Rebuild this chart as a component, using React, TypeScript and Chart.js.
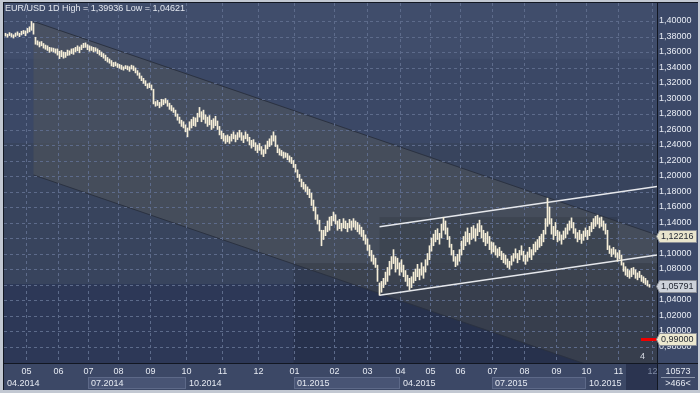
import React, { useEffect, useRef } from "react";
import { Chart, registerables } from "chart.js";

Chart.register(...registerables);

const chartTitle = "EUR/USD 1D High = 1,39936 Low = 1,04621";

// daily bars: [low, high]
const priceBars: [number, number][] = [
  [1.3805,1.3842],[1.3790,1.3830],[1.3812,1.3850],[1.3795,1.3838],[1.3780,1.3822],[1.3800,1.3845],[1.3815,1.3860],[1.3798,1.3842],[1.3820,1.3868],[1.3835,1.3878],[1.3810,1.3872],[1.3845,1.3905],[1.3860,1.3925],
  [1.3880,1.3994],[1.3830,1.3968],
  [1.3700,1.3790],[1.3690,1.3745],[1.3665,1.3730],[1.3680,1.3735],[1.3650,1.3710],[1.3635,1.3690],[1.3620,1.3680],[1.3595,1.3660],[1.3610,1.3655],[1.3600,1.3650],[1.3585,1.3640],[1.3560,1.3640],[1.3515,1.3610],
  [1.3540,1.3620],[1.3520,1.3600],[1.3530,1.3595],[1.3555,1.3625],[1.3560,1.3615],[1.3580,1.3640],[1.3570,1.3645],[1.3600,1.3660],[1.3615,1.3680],[1.3590,1.3665],[1.3630,1.3690],[1.3655,1.3712],[1.3660,1.3718],[1.3630,1.3695],[1.3610,1.3680],[1.3620,1.3670],[1.3600,1.3660],[1.3610,1.3655],[1.3580,1.3640],[1.3560,1.3620],
  [1.3540,1.3600],[1.3520,1.3580],[1.3490,1.3560],[1.3470,1.3530],[1.3455,1.3510],[1.3420,1.3490],[1.3410,1.3465],[1.3420,1.3470],[1.3400,1.3450],[1.3390,1.3440],[1.3375,1.3430],[1.3365,1.3410],[1.3385,1.3425],[1.3370,1.3420],[1.3350,1.3410],[1.3380,1.3430],[1.3360,1.3420],
  [1.3330,1.3395],[1.3300,1.3360],[1.3260,1.3330],[1.3230,1.3290],[1.3195,1.3260],[1.3165,1.3230],[1.3130,1.3190],[1.3140,1.3200],[1.3110,1.3175],[1.2930,1.3120],[1.2900,1.2960],[1.2910,1.2975],[1.2880,1.2950],[1.2900,1.2990],[1.2920,1.2985],[1.2940,1.3000],[1.2900,1.2975],[1.2860,1.2940],[1.2840,1.2910],[1.2820,1.2880],
  [1.2770,1.2850],[1.2720,1.2800],[1.2680,1.2760],[1.2640,1.2720],[1.2620,1.2700],[1.2570,1.2660],[1.2505,1.2620],[1.2590,1.2700],[1.2620,1.2730],[1.2650,1.2760],[1.2640,1.2750],[1.2700,1.2810],[1.2760,1.2885],[1.2700,1.2830],[1.2730,1.2850],[1.2680,1.2790],[1.2640,1.2760],[1.2660,1.2780],[1.2600,1.2720],[1.2620,1.2740],[1.2650,1.2770],[1.2600,1.2710],
  [1.2530,1.2640],[1.2480,1.2580],[1.2450,1.2550],[1.2420,1.2520],[1.2440,1.2530],[1.2420,1.2510],[1.2450,1.2540],[1.2480,1.2570],[1.2440,1.2530],[1.2470,1.2560],[1.2500,1.2590],[1.2460,1.2560],[1.2430,1.2520],[1.2480,1.2570],[1.2450,1.2540],[1.2400,1.2500],[1.2360,1.2460],[1.2380,1.2470],[1.2330,1.2430],[1.2300,1.2400],[1.2330,1.2420],[1.2280,1.2380],[1.2250,1.2340],[1.2290,1.2400],[1.2350,1.2450],[1.2380,1.2480],[1.2400,1.2520],[1.2450,1.2570],[1.2380,1.2520],
  [1.2300,1.2400],[1.2270,1.2350],[1.2260,1.2330],[1.2230,1.2310],[1.2240,1.2300],[1.2210,1.2290],[1.2180,1.2260],[1.2160,1.2240],[1.2110,1.2200],[1.2050,1.2150],[1.1980,1.2080],[1.1930,1.2020],[1.1860,1.1960],[1.1830,1.1920],[1.1800,1.1890],[1.1760,1.1860],[1.1720,1.1830],[1.1620,1.1780],[1.1550,1.1690],[1.1440,1.1600],[1.1380,1.1500],[1.1290,1.1430],[1.1100,1.1300],[1.1180,1.1300],
  [1.1230,1.1350],[1.1280,1.1420],[1.1300,1.1470],[1.1360,1.1480],[1.1420,1.1535],[1.1380,1.1500],[1.1300,1.1420],[1.1320,1.1440],[1.1290,1.1390],[1.1330,1.1450],[1.1320,1.1420],[1.1280,1.1390],[1.1330,1.1440],[1.1300,1.1420],[1.1340,1.1450],[1.1310,1.1420],[1.1280,1.1400],[1.1250,1.1370],[1.1220,1.1340],
  [1.1170,1.1300],[1.1120,1.1240],[1.1040,1.1190],[1.0970,1.1110],[1.0900,1.1040],[1.0860,1.0980],[1.0820,1.0940],[1.0640,1.0850],[1.0462,1.0620],[1.0500,1.0640],[1.0560,1.0680],[1.0600,1.0760],[1.0640,1.0820],[1.0720,1.0900],[1.0800,1.0960],[1.0870,1.1050],[1.0760,1.0960],[1.0800,1.0940],[1.0720,1.0880],[1.0760,1.0920],
  [1.0700,1.0850],[1.0640,1.0780],[1.0580,1.0720],[1.0530,1.0680],[1.0560,1.0700],[1.0620,1.0760],[1.0650,1.0800],[1.0700,1.0860],[1.0660,1.0800],[1.0720,1.0880],[1.0680,1.0830],[1.0760,1.0920],[1.0850,1.1000],[1.0920,1.1100],[1.1030,1.1200],[1.1100,1.1250],[1.1150,1.1300],[1.1180,1.1320],[1.1120,1.1260],[1.1200,1.1380],[1.1300,1.1467],[1.1250,1.1420],[1.1180,1.1330],
  [1.1080,1.1220],[1.0980,1.1120],[1.0900,1.1040],[1.0830,1.0960],[1.0850,1.0990],[1.0900,1.1050],[1.0980,1.1160],[1.1050,1.1220],[1.1100,1.1280],[1.1150,1.1330],[1.1120,1.1260],[1.1180,1.1340],[1.1200,1.1360],[1.1160,1.1320],[1.1230,1.1385],[1.1280,1.1430],[1.1200,1.1360],[1.1150,1.1300],[1.1100,1.1260],[1.1130,1.1280],[1.1050,1.1220],[1.1000,1.1150],
  [1.1020,1.1140],[1.0980,1.1100],[1.0950,1.1060],[1.0970,1.1080],[1.0920,1.1030],[1.0880,1.1000],[1.0860,1.0980],[1.0820,1.0930],[1.0800,1.0900],[1.0850,1.0970],[1.0900,1.1000],[1.0940,1.1060],[1.0880,1.1000],[1.0920,1.1040],[1.0980,1.1100],[1.0900,1.1030],[1.0860,1.0980],[1.0900,1.1020],[1.0950,1.1080],[1.0920,1.1050],
  [1.0980,1.1120],[1.1020,1.1150],[1.1050,1.1180],[1.1080,1.1220],[1.1100,1.1250],[1.1150,1.1300],[1.1250,1.1450],[1.1350,1.1714],[1.1380,1.1600],[1.1250,1.1450],[1.1180,1.1350],[1.1230,1.1400],[1.1150,1.1300],[1.1170,1.1280],[1.1120,1.1240],[1.1180,1.1290],[1.1200,1.1330],[1.1250,1.1380],[1.1300,1.1420],[1.1330,1.1460],[1.1260,1.1400],
  [1.1200,1.1320],[1.1150,1.1270],[1.1180,1.1300],[1.1130,1.1250],[1.1170,1.1290],[1.1220,1.1330],[1.1180,1.1300],[1.1230,1.1350],[1.1280,1.1400],[1.1320,1.1450],[1.1350,1.1480],[1.1380,1.1495],[1.1330,1.1460],[1.1350,1.1470],[1.1300,1.1420],[1.1250,1.1380],
  [1.1050,1.1300],[1.1000,1.1100],[1.0960,1.1060],[1.0990,1.1080],[1.0950,1.1050],[1.0900,1.1010],[1.0930,1.1040],[1.0850,1.0980],[1.0770,1.0880],[1.0720,1.0830],[1.0700,1.0800],[1.0680,1.0780],[1.0700,1.0810],[1.0730,1.0820],[1.0680,1.0790],[1.0660,1.0750],[1.0690,1.0770],[1.0640,1.0720],[1.0620,1.0700],[1.0600,1.0680],[1.0580,1.0650],[1.0565,1.0600],
];

const monthLabels = ["05","06","07","08","09","10","11","12","01","02","03","04","05","06","07","08","09","10","11","12"];
const monthStartBars = [10, 26, 41, 56, 72, 90, 108, 126, 144, 164, 181, 197, 212, 227, 243, 259, 275, 290, 306, 323];
const quarterLabels = ["04.2014","07.2014","10.2014","01.2015","04.2015","07.2015","10.2015"];
const quarterStartBars = [-0.75, 41, 90, 144, 197, 243, 290];
const quarterEndBar = 310;
const yTickValues = [1.40,1.38,1.36,1.34,1.32,1.30,1.28,1.26,1.24,1.22,1.20,1.18,1.16,1.14,1.12,1.10,1.08,1.06,1.04,1.02,1.00,0.98];
const yMin = 0.95871;
const yMax = 1.42323;

const priceMarkers = [1.12216, 1.05791, 0.99];
const markerFills = ["#e9e5cd", "#cdd2da", "#ece8cf"];
const alertPrice = 0.99;
const barCountText = "10573";
const shiftText = ">466<";
const cornerText = "4";

// chart objects in bar / price units
const downChannelStart = { bar: 14, price: 1.3994 };
const downChannelEnd = { bar: 325.75, price: 1.1239 };
const downChannelWidth = 0.1981;
const upChannelStart = { bar: 187, price: 1.0462 };
const upChannelEnd = { bar: 325.75, price: 1.0981 };
const upChannelWidth = 0.0883;
const priceZones = [1.351, 1.2426, 1.0606];
const rangeBoxA = { fromBar: 144, toBar: 325.75, top: 1.0877, bottom: 0.9 };
const rangeBoxB = { fromBar: 187, toBar: 306, top: 1.147, bottom: 1.0877 };

const FONT = '9px "Liberation Sans", Arial, sans-serif';

const fmt = (v: number) => v.toFixed(5).replace(".", ",");

const mtPlugin = {
  id: "mtLook",
  beforeDraw(chart: any) {
    const { ctx, chartArea: a } = chart;
    const xs = chart.scales.x, ys = chart.scales.y;
    const X = (v: number) => xs.getPixelForValue(v);
    const Y = (v: number) => ys.getPixelForValue(v);
    const W = chart.width, H = chart.height;
    const w = a.right - a.left;
    ctx.save();
    ctx.fillStyle = "#c2c8d2";
    ctx.fillRect(0, 0, W, H);
    ctx.fillStyle = "#121722";
    ctx.fillRect(3, 2, W - 5, H - 5);
    // right panel
    ctx.fillStyle = "#3c4968";
    ctx.fillRect(a.right + 1, a.top, W - 2 - (a.right + 1), a.bottom - a.top);
    // x axis area
    ctx.fillStyle = "#3c4866";
    ctx.fillRect(a.left, a.bottom + 1, w, H - 3 - (a.bottom + 1));
    ctx.fillRect(a.right + 1, a.bottom + 1, W - 2 - (a.right + 1), H - 3 - (a.bottom + 1));

    // plot background
    ctx.save();
    ctx.beginPath();
    ctx.rect(a.left, a.top, w, a.bottom - a.top);
    ctx.clip();
    ctx.fillStyle = "#3b4866";
    ctx.fillRect(a.left, a.top, w, a.bottom - a.top);
    const z0 = Y(priceZones[0]), z1 = Y(priceZones[1]), z2 = Y(priceZones[2]);
    ctx.fillStyle = "#404d6b";
    ctx.fillRect(a.left, a.top, w, z0 - a.top);
    ctx.fillStyle = "rgba(40,45,50,0.15)";
    ctx.fillRect(a.left, z1, w, z2 - z1);
    ctx.fillStyle = "rgba(20,28,60,0.35)";
    ctx.fillRect(a.left, z2, w, a.bottom - z2);

    const dx0 = X(downChannelStart.bar), dx1 = X(downChannelEnd.bar);
    const du0 = Y(downChannelStart.price), du1 = Y(downChannelEnd.price);
    const dl0 = Y(downChannelStart.price - downChannelWidth), dl1 = Y(downChannelEnd.price - downChannelWidth);
    ctx.fillStyle = "rgba(82,86,90,0.5)";
    ctx.beginPath();
    ctx.moveTo(dx0, du0);
    ctx.lineTo(dx1, du1);
    ctx.lineTo(dx1, dl1);
    ctx.lineTo(dx0, dl0);
    ctx.closePath();
    ctx.fill();

    ctx.fillStyle = "rgba(0,0,0,0.12)";
    ctx.fillRect(X(rangeBoxA.fromBar), Y(rangeBoxA.top), X(rangeBoxA.toBar) - X(rangeBoxA.fromBar), Y(rangeBoxA.bottom) - Y(rangeBoxA.top));
    ctx.fillStyle = "rgba(0,0,0,0.1)";
    ctx.fillRect(X(rangeBoxB.fromBar), Y(rangeBoxB.top), X(rangeBoxB.toBar) - X(rangeBoxB.fromBar), Y(rangeBoxB.bottom) - Y(rangeBoxB.top));

    ctx.strokeStyle = "#2b3241";
    ctx.lineWidth = 1;
    ctx.beginPath();
    ctx.moveTo(dx0, du0);
    ctx.lineTo(dx1, du1);
    ctx.moveTo(dx0, dl0);
    ctx.lineTo(dx1, dl1);
    ctx.stroke();

    // grid
    ctx.strokeStyle = "#5d6b8b";
    ctx.setLineDash([3, 3]);
    ctx.beginPath();
    yTickValues.forEach((v) => {
      const yy = Math.round(Y(v)) + 0.5;
      ctx.moveTo(a.left, yy);
      ctx.lineTo(a.right, yy);
    });
    monthStartBars.forEach((b) => {
      const xx = Math.round(X(b)) + 0.5;
      ctx.moveTo(xx, a.top);
      ctx.lineTo(xx, a.bottom);
    });
    ctx.stroke();
    ctx.setLineDash([]);
    ctx.restore();

    // x axis: quarter boxes
    const rowTop = a.bottom + 14;
    const rowBot = H - 4;
    quarterLabels.forEach((q, i) => {
      const x0 = i === 0 ? a.left : Math.round(X(quarterStartBars[i]));
      const x1 = i < quarterLabels.length - 1 ? Math.round(X(quarterStartBars[i + 1])) : Math.round(X(quarterEndBar));
      if (i % 2 === 1) {
        ctx.fillStyle = "#485474";
        ctx.fillRect(x0, rowTop, x1 - x0, rowBot - rowTop);
        ctx.strokeStyle = "#5d6988";
        ctx.strokeRect(x0 + 0.5, rowTop + 0.5, x1 - x0 - 1, rowBot - rowTop - 1);
      }
    });
    ctx.fillStyle = "#2b3450";
    ctx.fillRect(Math.round(X(quarterEndBar)), a.bottom + 1, a.right - Math.round(X(quarterEndBar)), H - 3 - (a.bottom + 1));
    ctx.restore();
  },
  beforeDatasetsDraw(chart: any) {
    const { ctx, chartArea: a } = chart;
    const X = (v: number) => chart.scales.x.getPixelForValue(v);
    const Y = (v: number) => chart.scales.y.getPixelForValue(v);
    ctx.save();
    ctx.beginPath();
    ctx.rect(a.left, a.top, a.right - a.left, a.bottom - a.top);
    ctx.clip();
    ctx.strokeStyle = "#e6e8ec";
    ctx.lineWidth = 1.4;
    ctx.beginPath();
    ctx.moveTo(X(upChannelStart.bar), Y(upChannelStart.price));
    ctx.lineTo(X(upChannelEnd.bar), Y(upChannelEnd.price));
    ctx.moveTo(X(upChannelStart.bar), Y(upChannelStart.price + upChannelWidth));
    ctx.lineTo(X(upChannelEnd.bar), Y(upChannelEnd.price + upChannelWidth));
    ctx.stroke();
    ctx.restore();
  },
  afterDraw(chart: any) {
    const { ctx, chartArea: a } = chart;
    const X = (v: number) => chart.scales.x.getPixelForValue(v);
    const Y = (v: number) => chart.scales.y.getPixelForValue(v);
    const W = chart.width, H = chart.height;
    ctx.save();
    ctx.font = FONT;
    ctx.textBaseline = "middle";
    // title
    ctx.fillStyle = "#e4e8f0";
    ctx.textAlign = "left";
    ctx.fillText(chartTitle, 5, 8.5);
    // corner "4"
    ctx.fillStyle = "#d8dce4";
    ctx.fillText(cornerText, a.right - 17, a.bottom - 6);
    // month labels
    ctx.textAlign = "center";
    monthLabels.forEach((m, i) => {
      ctx.fillStyle = i === monthLabels.length - 1 ? "#7f8aa3" : "#e6eaf2";
      ctx.fillText(m, Math.round(X(monthStartBars[i])) + 0.5, a.bottom + 9);
    });
    ctx.textAlign = "left";
    ctx.fillStyle = "#e6eaf2";
    quarterLabels.forEach((q, i) => {
      const x0 = i === 0 ? a.left : Math.round(X(quarterStartBars[i]));
      ctx.fillText(q, x0 + 3, a.bottom + 21);
    });
    // corner cell
    const cx = (a.right + 1 + W - 2) / 2;
    ctx.textAlign = "center";
    ctx.fillText(barCountText, cx, a.bottom + 8.5);
    ctx.fillText(shiftText, cx, a.bottom + 21);
    ctx.strokeStyle = "#8b95aa";
    ctx.beginPath();
    ctx.moveTo(a.right + 4, a.bottom + 14.5);
    ctx.lineTo(W - 5, a.bottom + 14.5);
    ctx.stroke();
    // alert line
    const ya = Math.round(Y(alertPrice));
    ctx.fillStyle = "#f00000";
    ctx.fillRect(a.right - 16, ya - 1, 16, 3);
    // price markers
    priceMarkers.forEach((p, i) => {
      const yy = Math.round(Y(p)) + 0.5;
      const l = a.right + 2.5, r = W - 3.5;
      ctx.fillStyle = markerFills[i];
      ctx.strokeStyle = "#8a8e96";
      ctx.lineWidth = 1;
      ctx.beginPath();
      ctx.moveTo(a.right - 0.5, yy);
      ctx.lineTo(l, yy - 6);
      ctx.lineTo(r, yy - 6);
      ctx.lineTo(r, yy + 6);
      ctx.lineTo(l, yy + 6);
      ctx.closePath();
      ctx.fill();
      ctx.stroke();
      ctx.fillStyle = "#1e2430";
      ctx.textAlign = "left";
      ctx.fillText(fmt(p), a.right + 4, yy + 0.5);
    });
    ctx.restore();
  },
};

export default function App() {
  const ref = useRef<HTMLCanvasElement | null>(null);
  useEffect(() => {
    document.body.style.margin = "0";
    if (!ref.current) return;
    const chart = new Chart(ref.current, {
      type: "bar",
      data: {
        datasets: [
          {
            data: priceBars.map((b, i) => ({ x: i, y: b })) as any,
            backgroundColor: "#f6eed8",
            borderWidth: 0,
            barThickness: 1,
          },
        ],
      },
      options: {
        animation: false,
        responsive: false,
        devicePixelRatio: 1,
        events: [],
        layout: { padding: { left: 4, top: 3, right: 0, bottom: 30 } },
        plugins: { legend: { display: false }, tooltip: { enabled: false } },
        scales: {
          x: { type: "linear", min: -0.75, max: 325.75, display: false, offset: false },
          y: {
            type: "linear",
            position: "right",
            min: yMin,
            max: yMax,
            afterFit: (s: any) => {
              s.width = 43;
              s.paddingTop = 0;
              s.paddingBottom = 0;
            },
            afterBuildTicks: (s: any) => {
              s.ticks = yTickValues.map((value) => ({ value }));
            },
            ticks: {
              autoSkip: false,
              padding: 2,
              color: "#e8ecf4",
              font: { family: '"Liberation Sans", Arial, sans-serif', size: 9 },
              callback: (v: any) => fmt(Number(v)),
            },
            grid: { display: false, drawTicks: false },
            border: { display: false },
          },
        },
      },
      plugins: [mtPlugin],
    });
    return () => chart.destroy();
  }, []);
  return (
    <div style={{ width: 700, height: 393 }}>
      <canvas ref={ref} width={700} height={393} style={{ display: "block" }} />
    </div>
  );
}
